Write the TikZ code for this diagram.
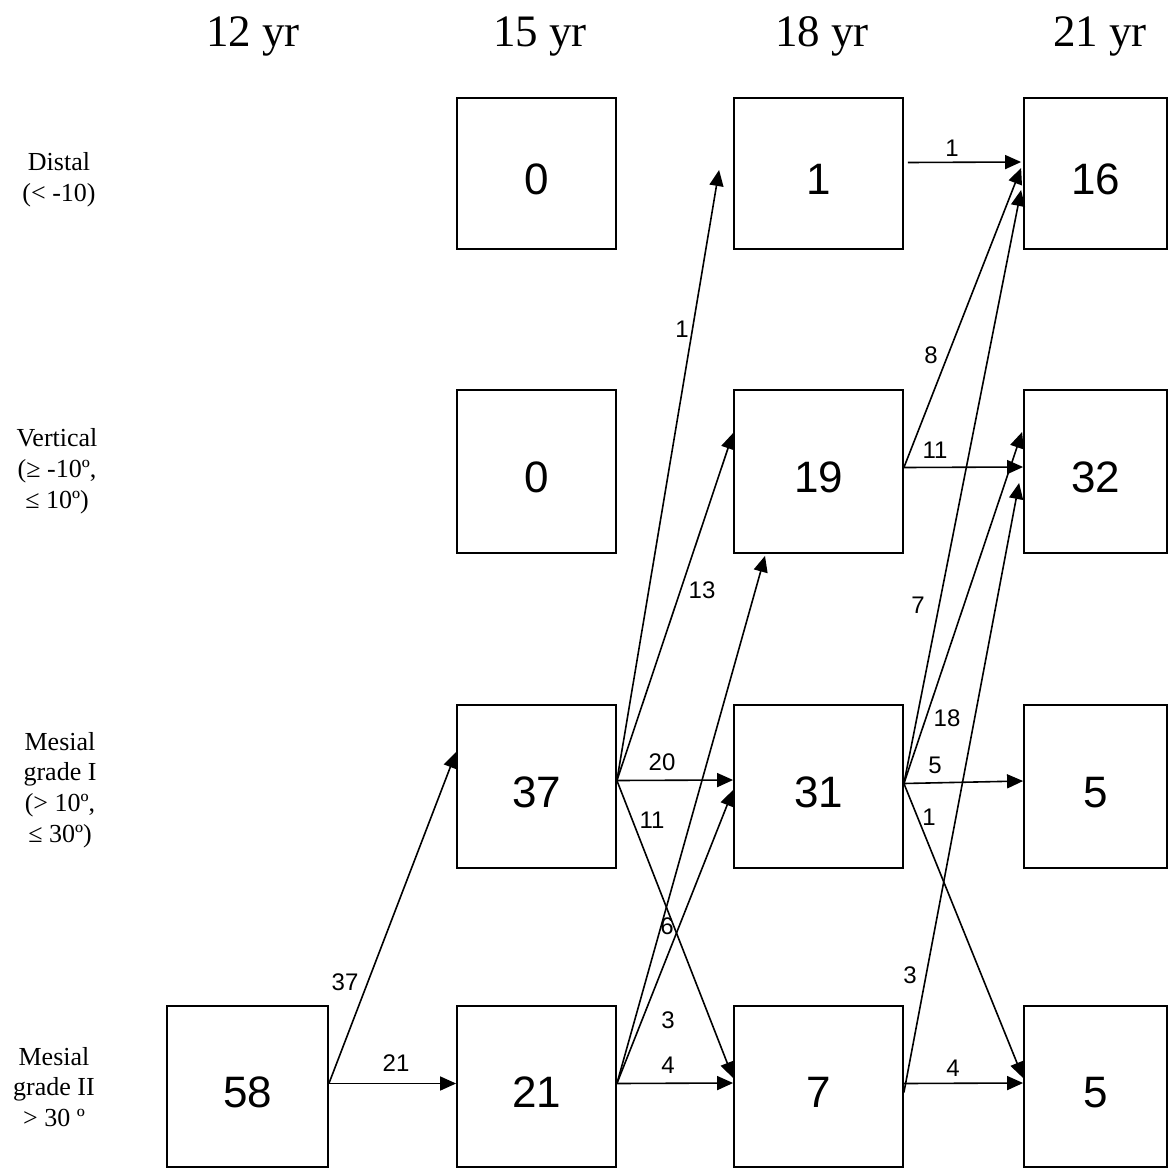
\documentclass[tikz,border=0pt]{standalone}
\usepackage{fontspec}
\setmainfont{Liberation Serif}
\newfontfamily\arialfont{Liberation Sans}
\usetikzlibrary{arrows.meta,calc}

\begin{document}
\begin{tikzpicture}[x=1pt,y=-1pt,
  box/.style={draw,line width=1.8pt,inner sep=0pt,
    font=\arialfont\fontsize{44}{44}\selectfont,
    text height=41.5pt,text depth=0pt},
  flow/.style={line width=1.6pt,-{Triangle[length=16pt,width=14pt]}},
  cnt/.style={font=\arialfont\fontsize{24}{24}\selectfont,inner sep=0pt},
  year/.style={font=\fontsize{45}{45}\selectfont,anchor=base,inner sep=0pt},
  grade/.style={font=\fontsize{26}{30.8}\selectfont,align=center,inner sep=0pt}]

\fill[white] (0,0) rectangle (1170,1169);
\useasboundingbox (0,0) rectangle (1170,1169);

% column headings
\node[year] (y12) at (253,47) {12 yr};
\node[year] (y15) at (540,47) {15 yr};
\node[year] (y18) at (822,47) {18 yr};
\node[year] (y21) at (1100,47) {21 yr};

% row headings
\node[grade] (g1) at (59,180) {Distal\\(< -10)};
\node[grade] (g2) at (57,471) {Vertical\\(≥ -10º,\\ ≤ 10º)};
\node[grade] (g3) at (60,790) {Mesial\\grade I\\(> 10º,\\≤ 30º)};
\node[grade] (g4) at (54,1087) {Mesial\\grade II\\> 30 º};

% 12 yr
\node[box,minimum width=161pt,minimum height=161pt] (a58) at (247.5,1086.5) {58};
% 15 yr
\node[box,minimum width=159pt,minimum height=151pt] (b0a) at (536.5,173.5) {0};
\node[box,minimum width=159pt,minimum height=163pt] (b0b) at (536.5,471.5) {0};
\node[box,minimum width=159pt,minimum height=163pt] (b37) at (536.5,786.5) {37};
\node[box,minimum width=159pt,minimum height=161pt] (b21) at (536.5,1086.5) {21};
% 18 yr
\node[box,minimum width=169pt,minimum height=151pt] (c1) at (818.5,173.5) {1};
\node[box,minimum width=169pt,minimum height=163pt] (c19) at (818.5,471.5) {19};
\node[box,minimum width=169pt,minimum height=163pt] (c31) at (818.5,786.5) {31};
\node[box,minimum width=169pt,minimum height=161pt] (c7) at (818.5,1086.5) {7};
% 21 yr
\node[box,minimum width=143pt,minimum height=151pt] (d16) at (1095.5,173.5) {16};
\node[box,minimum width=143pt,minimum height=163pt] (d32) at (1095.5,471.5) {32};
\node[box,minimum width=143pt,minimum height=163pt] (d5a) at (1095.5,786.5) {5};
\node[box,minimum width=143pt,minimum height=161pt] (d5b) at (1095.5,1086.5) {5};

% transitions 12 -> 15
\draw[flow] ($(a58.east)+(0,-3)$) -- ($(b37.west)+(0,-34.5)$);
\draw[flow] ($(a58.east)+(0,-3)$) -- ($(b21.west)+(0,-3)$);

% transitions 15 -> 18
\draw[flow] ($(b37.east)+(0,-6)$) -- ($(c1.west)+(-14,-3.5)$);
\draw[flow] ($(b37.east)+(0,-6)$) -- ($(c19.west)+(0,-38.5)$);
\draw[flow] ($(b37.east)+(0,-6)$) -- ($(c31.west)+(0,-6.5)$);
\draw[flow] ($(b37.east)+(0,-6)$) -- ($(c7.west)+(0,-8.5)$);
\draw[flow] ($(b21.east)+(0,-3)$) -- ($(c19.south)+(-53.5,2)$);
\draw[flow] ($(b21.east)+(0,-3)$) -- ($(c31.west)+(0,3.5)$);
\draw[flow] ($(b21.east)+(0,-3)$) -- ($(c7.west)+(0,-3.5)$);

% transitions 18 -> 21
\draw[flow] ($(c1.east)+(4,-11)$) -- ($(d16.west)+(-2,-11.5)$);
\draw[flow] ($(c19.east)+(0,-4)$) -- ($(d16.west)+(-2,-5.5)$);
\draw[flow] ($(c19.east)+(0,-4)$) -- ($(d32.west)+(0,-4.5)$);
\draw[flow] ($(c31.east)+(0,-3)$) -- ($(d16.west)+(-2,16.5)$);
\draw[flow] ($(c31.east)+(0,-3)$) -- ($(d32.west)+(-1,-39.5)$);
\draw[flow] ($(c31.east)+(0,-3)$) -- ($(d5a.west)+(0,-5.5)$);
\draw[flow] ($(c31.east)+(0,-3)$) -- ($(d5b.west)+(0,-8.5)$);
\draw[flow] ($(c7.east)+(0,6)$) -- ($(d32.west)+(-4,11.5)$);
\draw[flow] ($(c7.east)+(0,-3)$) -- ($(d5b.west)+(0,-3.5)$);

% counts on the transitions
\node[cnt] (n37) at (345,982) {37};
\node[cnt] (n21) at (396,1063) {21};
\node[cnt] (n1a) at (682,329) {1};
\node[cnt] (n13) at (702,590) {13};
\node[cnt] (n20) at (662,762) {20};
\node[cnt] (n11a) at (652,820) {11};
\node[cnt] (n6) at (667,926) {6};
\node[cnt] (n3a) at (668,1020) {3};
\node[cnt] (n4a) at (668,1065) {4};
\node[cnt] (n1b) at (952,148) {1};
\node[cnt] (n8) at (931,355) {8};
\node[cnt] (n11b) at (935,450) {11};
\node[cnt] (n7) at (918,605) {7};
\node[cnt] (n18) at (947,718) {18};
\node[cnt] (n5) at (935,765) {5};
\node[cnt] (n1c) at (929,817) {1};
\node[cnt] (n3b) at (910,975) {3};
\node[cnt] (n4b) at (953,1068) {4};
\end{tikzpicture}
\end{document}
